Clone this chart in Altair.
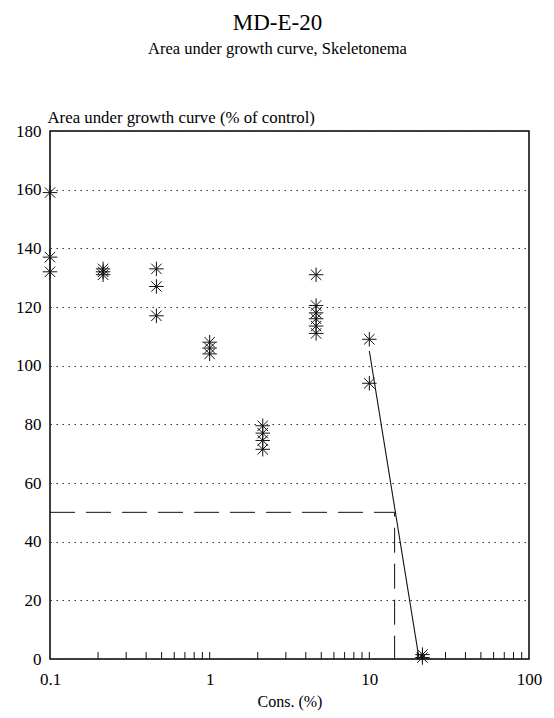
import altair as alt
import pandas as pd

# concentrations (%) and responses (% of control)
conc_levels = [0.1, 0.215, 0.464, 1.0, 2.15, 4.64, 10.0, 21.5]
resp_c1 = [159, 137, 132]
resp_c2 = [133, 132, 131]
resp_c3 = [133, 127, 117]
resp_c4 = [108, 106, 104]
resp_c5 = [79.5, 77, 74.5, 71.5]
resp_c6 = [131, 120.5, 118, 116, 113.5, 111]
resp_c7 = [109, 94]
resp_c8 = [1.5, 0.5]

reg_conc = [10.0, 20.5]
reg_resp = [105, 0]

ec50 = 14.4
ec_conc = [0.1, ec50, ec50]
ec_resp = [50, 50, 0]

minor_ticks = [0.2, 0.3, 0.4, 0.5, 0.6, 0.7, 0.8, 0.9, 1,
               2, 3, 4, 5, 6, 7, 8, 9, 10,
               20, 30, 40, 50, 60, 70, 80, 90]
x_labels = [0.1, 1, 10, 100]
y_ticks = [0, 20, 40, 60, 80, 100, 120, 140, 160, 180]

groups = [resp_c1, resp_c2, resp_c3, resp_c4, resp_c5, resp_c6, resp_c7, resp_c8]
rows = []
for c, vals in zip(conc_levels, groups):
    for v in vals:
        rows.append({"conc": c, "resp": v})
df_pts = pd.DataFrame(rows)
df_reg = pd.DataFrame({"conc": reg_conc, "resp": reg_resp})
df_ec = pd.DataFrame({"conc": ec_conc, "resp": ec_resp, "o": [0, 1, 2]})
df_ticks = pd.DataFrame({"conc": minor_ticks, "resp": [0] * len(minor_ticks)})

W, H = 479, 528
FONT = "Liberation Serif"

xscale = alt.Scale(type="log", domain=[0.1, 100], nice=False)
yscale = alt.Scale(domain=[0, 180], nice=False)

xaxis = alt.Axis(values=x_labels,
                 labelExpr="datum.value >= 1 ? format(datum.value, 'd') : '0.1'",
                 ticks=False, domain=False, grid=False,
                 labelFont=FONT, labelFontSize=17, labelColor="black",
                 labelPadding=12, labelFlush=False,
                 title="Cons. (%)", titleFont=FONT, titleFontSize=16,
                 titleFontWeight="normal", titleColor="black", titlePadding=6)
yaxis = alt.Axis(values=y_ticks, ticks=False, domain=False, grid=True,
                 gridDash=[1.5, 4.5], gridColor="#333", gridWidth=1,
                 labelFont=FONT, labelFontSize=17, labelColor="black",
                 labelPadding=9,
                 title="Area under growth curve (% of control)",
                 titleFont=FONT, titleFontSize=16.8, titleFontWeight="normal",
                 titleColor="black", titleAngle=0, titleAlign="left",
                 titleBaseline="bottom", titleX=-3, titleY=-5)

asterisk = "M0,-1L0,1M-1,0L1,0M-0.72,-0.72L0.72,0.72M-0.72,0.72L0.72,-0.72"

X = alt.X("conc:Q", scale=xscale, axis=xaxis)
Y = alt.Y("resp:Q", scale=yscale, axis=yaxis)

points = alt.Chart(df_pts).mark_point(
    shape=asterisk, filled=False, color="#111", strokeWidth=1, size=210, opacity=1
).encode(x=X, y=Y)

reg = alt.Chart(df_reg).mark_line(color="#111", strokeWidth=1.1).encode(x=X, y=Y)

ec = alt.Chart(df_ec).mark_line(color="#111", strokeWidth=1, strokeDash=[25, 11]).encode(
    x=X, y=Y, order="o:Q",
)

ticks = alt.Chart(df_ticks).mark_rule(color="#111", strokeWidth=1).encode(
    x=X,
    y=alt.value(H),
    y2=alt.value(H - 7),
)

chart = alt.layer(ticks, ec, reg, points).properties(
    width=W, height=H,
    autosize=alt.AutoSizeParams(type="none"),
    padding={"left": 42, "top": 123, "right": 17, "bottom": 56},
    title=alt.TitleParams(
        "MD-E-20", subtitle="Area under growth curve, Skeletonema",
        font=FONT, fontSize=23, fontWeight="normal", color="black",
        subtitleFont=FONT, subtitleFontSize=16.5, subtitleColor="black",
        subtitlePadding=6, anchor="middle", dx=-12, offset=52,
    ),
).configure_view(stroke="black", strokeWidth=1.5)

chart.save("out.html", embed_options={"renderer": "svg", "actions": False})
